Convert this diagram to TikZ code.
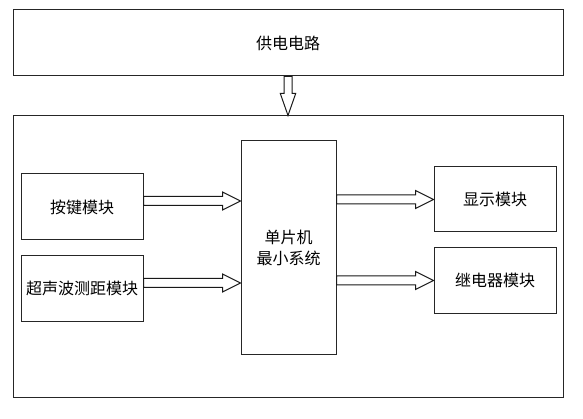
\documentclass[tikz,border=0pt]{standalone}
\usepackage{fontspec}
\newfontfamily\cjk{Noto Sans CJK SC}
\usetikzlibrary{calc}
\tikzset{
  box/.style={draw=black!85, line width=1pt, fill=white, inner sep=0pt, align=center,
    font=\cjk\fontsize{16}{21}\selectfont},
  blk/.style={draw=black!90, line width=1pt, fill=white, line join=miter}
}
% horizontal block arrow from #1 to #2 (same height)
\newcommand\harrow[2]{%
  \draw[blk] let \p1=(#1), \p2=(#2) in
    (\x1,\y1+4.5pt) -- (\x2-18pt,\y1+4.5pt) -- (\x2-18pt,\y1+9pt) -- (\x2,\y1)
    -- (\x2-18pt,\y1-9pt) -- (\x2-18pt,\y1-4.5pt) -- (\x1,\y1-4.5pt) -- cycle;}
% vertical block arrow (downwards) from #1 to #2
\newcommand\varrow[2]{%
  \draw[blk] let \p1=(#1), \p2=(#2) in
    (\x1-4pt,\y1) -- (\x1-4pt,\y2+22pt) -- (\x1-7.7pt,\y2+22pt) -- (\x1,\y2)
    -- (\x1+7.7pt,\y2+22pt) -- (\x1+4pt,\y2+22pt) -- (\x1+4pt,\y1) -- cycle;}
\begin{document}
\begin{tikzpicture}[x=1pt,y=-1pt]
\useasboundingbox (0,0) rectangle (583,419);
\node[box, minimum width=550pt, minimum height=66pt] (power) at (288,43) {供电电路};
\node[box, minimum width=550pt, minimum height=281pt] (sys) at (288,256.5) {};
\node[box, minimum width=122pt, minimum height=66pt] (key) at (82,207) {按键模块};
\node[box, minimum width=122pt, minimum height=65pt] (ultra) at (82,288.5) {超声波测距模块};
\node[box, minimum width=95pt, minimum height=213pt] (mcu) at (288.5,247.5) {单片机\\最小系统};
\node[box, minimum width=122pt, minimum height=65pt] (disp) at (495,199.5) {显示模块};
\node[box, minimum width=122pt, minimum height=65pt] (relay) at (495,280.5) {继电器模块};

\coordinate (k1) at ($(key.east)+(0,-6)$);
\coordinate (u1) at ($(ultra.east)+(0,-5.5)$);
\coordinate (d1) at (mcu.east |- disp.west);
\coordinate (r1) at (mcu.east |- relay.west);

\varrow{power.south}{sys.north}
\harrow{k1}{mcu.west |- k1}
\harrow{u1}{mcu.west |- u1}
\harrow{d1}{disp.west}
\harrow{r1}{relay.west}
\end{tikzpicture}
\end{document}
